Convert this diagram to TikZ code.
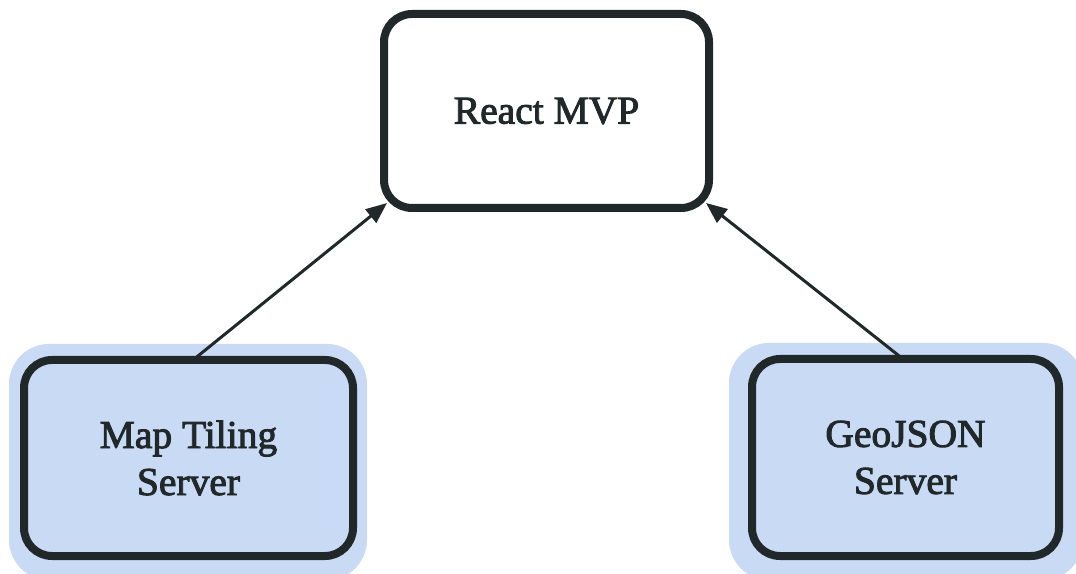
\documentclass[tikz,border=0pt]{standalone}
\usepackage{fontspec}
\setmainfont{Liberation Serif}
\newfontfamily\labelfont{Liberation Serif}[FakeBold=2.4]
\usetikzlibrary{arrows.meta,backgrounds}
\definecolor{ink}{HTML}{212829}
\definecolor{halo}{HTML}{C9DAF5}
\tikzset{
  box/.style={draw=ink, line width=8pt, rounded corners=28pt, align=center,
    text=ink, font=\labelfont\fontsize{39.5}{47}\selectfont, inner sep=0pt},
  srv/.style={box, fill=halo},
  conn/.style={draw=ink, line width=3pt, -{Triangle[length=21pt,width=17pt]}},
  glow/.style={fill=halo, rounded corners=40pt}
}
\begin{document}
\begin{tikzpicture}[x=1pt,y=1pt]
\useasboundingbox (0,0) rectangle (1076,573);
\node[box, minimum width=325pt, minimum height=194pt] (top) at (546.5,462) {React MVP};
\node[srv, minimum width=329pt, minimum height=196pt] (ml) at (188.5,115) {Map Tiling\\Server};
\node[srv, minimum width=307pt, minimum height=197pt] (mr) at (905.5,115.5) {GeoJSON\\Server};
\begin{scope}[on background layer]
\fill[glow] ([shift={(-11pt,-20pt)}]ml.south west) rectangle ([shift={(10pt,12pt)}]ml.north east);
\fill[glow] ([shift={(-19pt,-20pt)}]mr.south west) rectangle ([shift={(20pt,12pt)}]mr.north east);
\end{scope}
\coordinate (tl) at ([shift={(7pt,9pt)}]top.south west);
\coordinate (tr) at ([shift={(-7pt,9pt)}]top.south east);
\draw[conn] ([xshift=4.5pt,yshift=-4pt]ml.north) -- (tl);
\draw[conn] ([xshift=-2.5pt,yshift=-4pt]mr.north) -- (tr);
\end{tikzpicture}
\end{document}
